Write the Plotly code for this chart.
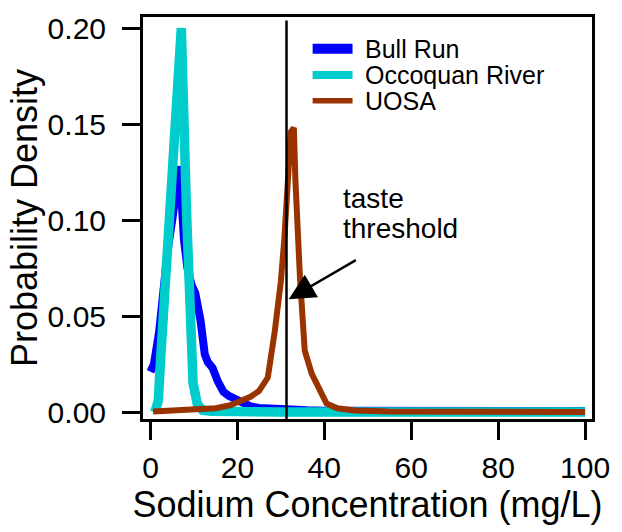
import plotly.graph_objects as go

# ---------------- data ----------------
series_names = ["Bull Run", "Occoquan River", "UOSA"]

bull_x = [0, 0.8, 2, 3, 4, 5, 6, 6.7, 7.7, 8.5, 9.5, 10.3, 11.5, 12.5, 13.2, 14.3,
          15.5, 16.8, 18, 19.5, 21, 23, 25, 28, 32, 36, 40, 45, 50, 55, 60, 65,
          70, 75, 80, 85, 90, 95, 100]
bull_y = [0.021, 0.025, 0.042, 0.065, 0.085, 0.100, 0.117, 0.128, 0.090, 0.075,
          0.066, 0.062, 0.048, 0.030, 0.026, 0.023, 0.016, 0.0105, 0.0085, 0.007,
          0.0045, 0.003, 0.0022, 0.0016, 0.0012, 0.0009, 0.0007, 0.0006, 0.0007,
          0.0005, 0.0006, 0.0005, 0.0006, 0.0005, 0.0006, 0.0005, 0.0006, 0.0005,
          0.0006]

occ_x = [1.0, 1.8, 2.4, 3.4, 4.5, 7.1, 8.3, 9.8, 10.8, 12, 14, 17, 20, 30, 40,
         50, 60, 70, 80, 90, 100]
occ_y = [0.0, 0.006, 0.030, 0.066, 0.105, 0.200, 0.104, 0.015, 0.004, 0.001,
         0.0004, 0.0002, 0.0001, 0.0001, 0.0001, 0.0001, 0.0001, 0.0001, 0.0001,
         0.0001, 0.0001]

uosa_x = [0.6, 5, 10, 15, 18.4, 20.7, 23, 25, 26, 27, 28.6, 30, 30.8, 31.9, 32.3,
          33.0, 33.35, 34.4, 35.5, 37.1, 40.5, 43, 47, 55, 70, 85, 100]
uosa_y = [0.0003, 0.0006, 0.0010, 0.002, 0.0036, 0.006, 0.008, 0.011, 0.0148,
          0.018, 0.042, 0.068, 0.090, 0.1386, 0.146, 0.148, 0.121, 0.070, 0.032,
          0.020, 0.0045, 0.002, 0.0008, 0.0003, 0.0001, 0.0001, 0.0001]

threshold = 31.3
x_ticks = [0, 20, 40, 60, 80, 100]
y_ticks = [0.00, 0.05, 0.10, 0.15, 0.20]
annot_lines = ["taste", "threshold"]

# ---------------- style ----------------
colors = ["#0000FF", "#00CCCC", "#993300"]
widths = [8, 9.5, 6]
legend_widths = [10, 8, 5.5]
FONT = "Liberation Sans, Arial, Helvetica, sans-serif"

fig = go.Figure()
for name, xs, ys, c, w in zip(series_names, [bull_x, occ_x, uosa_x],
                              [bull_y, occ_y, uosa_y], colors, widths):
    fig.add_trace(go.Scatter(x=xs, y=ys, mode="lines", name=name,
                             line=dict(color=c, width=w), showlegend=False,
                             cliponaxis=True))

# threshold line
fig.add_shape(type="line", xref="x", yref="y", x0=threshold, x1=threshold,
              y0=-0.0036, y1=0.204, line=dict(color="black", width=2.5),
              layer="above")

# arrow
fig.add_annotation(x=31.8, y=0.0588, ax=47.6, ay=0.0796, xref="x", yref="y",
                   axref="x", ayref="y", text="", showarrow=True,
                   arrowhead=2, arrowsize=2.1, arrowwidth=2.5,
                   arrowcolor="black")

# text
for t, yv in zip(annot_lines, [0.111, 0.0958]):
    fig.add_annotation(x=43.9, y=yv, xref="x", yref="y", text=t,
                       showarrow=False, xanchor="left", yanchor="middle",
                       font=dict(family=FONT, size=28, color="black"))

# manual legend
leg_y = [0.9212, 0.8559, 0.7919]
for name, c, lw, yy in zip(series_names, colors, legend_widths, leg_y):
    fig.add_shape(type="line", xref="paper", yref="paper", x0=0.3778, x1=0.4667,
                  y0=yy, y1=yy, line=dict(color=c, width=lw))
    fig.add_annotation(x=0.4889, y=yy, xref="paper", yref="paper", text=name,
                       showarrow=False, xanchor="left", yanchor="middle",
                       font=dict(family=FONT, size=25, color="black"))

fig.update_layout(
    width=622, height=532,
    margin=dict(l=143, r=29, t=13, b=113),
    paper_bgcolor="white", plot_bgcolor="white",
    font=dict(family=FONT, color="black"),
    showlegend=False,
)
fig.update_xaxes(range=[-1.72, 101.6], tickvals=x_ticks, ticks="outside",
                 ticklen=18, tickwidth=3, tickcolor="black", showline=True,
                 linewidth=3, linecolor="black", mirror=True, showgrid=False,
                 zeroline=False, tickfont=dict(size=30, family=FONT),
                 ticklabelstandoff=2,
                 title=dict(text="Sodium Concentration (mg/L)",
                            font=dict(size=36, family=FONT), standoff=8))
fig.update_yaxes(range=[-0.0036, 0.2058], tickvals=y_ticks, tickformat=".2f",
                 ticks="outside", ticklen=18, tickwidth=3, tickcolor="black",
                 showline=True, linewidth=3, linecolor="black", mirror=True,
                 showgrid=False, zeroline=False,
                 tickfont=dict(size=30, family=FONT), ticklabelstandoff=10,
                 title=dict(text="Probability Density",
                            font=dict(size=36, family=FONT), standoff=0))

fig.write_html("out.html")
